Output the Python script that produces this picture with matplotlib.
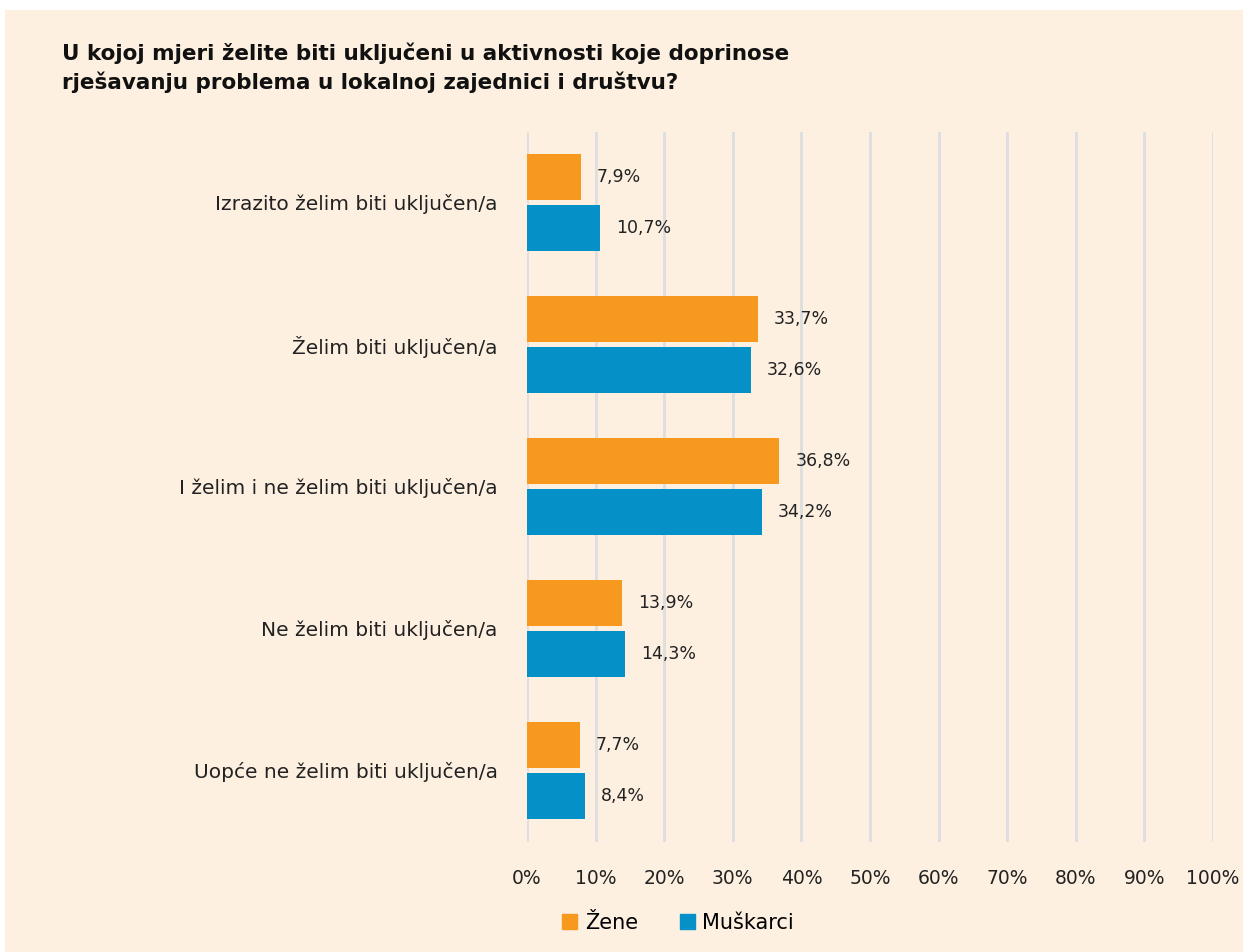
import numpy as np
import matplotlib.pyplot as plt
from matplotlib.patches import Patch

plt.rcParams['font.family'] = ['DejaVu Sans']

categories = ["Izrazito želim biti uključen/a",
              "Želim biti uključen/a",
              "I želim i ne želim biti uključen/a",
              "Ne želim biti uključen/a",
              "Uopće ne želim biti uključen/a"]
zene = [7.9, 33.7, 36.8, 13.9, 7.7]
muskarci = [10.7, 32.6, 34.2, 14.3, 8.4]
ticks = np.arange(0, 101, 10)

bg = '#FDF0E1'
c_z = '#F7991E'
c_m = '#0591C8'
txt = '#222222'

fig = plt.figure(figsize=(12.43, 9.52), dpi=100)
fig.patch.set_facecolor('white')
# cream panel
fig.add_artist(plt.Rectangle((5/1243, 0), 1, 1 - 10/952, transform=fig.transFigure,
                             facecolor=bg, edgecolor='none', zorder=-10))

ax = fig.add_axes([527/1243, 1 - 841.5/952, 686/1243, 710/952])
ax.set_facecolor('none')

y = np.arange(len(categories))
h = 0.324
off = 0.18
ax.barh(y - off, zene, height=h, color=c_z, zorder=3)
ax.barh(y + off, muskarci, height=h, color=c_m, zorder=3)

for yi, v in zip(y - off, zene):
    ax.text(v + 2.3, yi, f"{v:.1f}%".replace('.', ','), va='center', ha='left',
            fontsize=12.5, color=txt)
for yi, v in zip(y + off, muskarci):
    ax.text(v + 2.3, yi, f"{v:.1f}%".replace('.', ','), va='center', ha='left',
            fontsize=12.5, color=txt)

ax.set_xlim(0, 100)
ax.set_ylim(len(categories) - 0.5, -0.5)
ax.set_xticks(ticks)
ax.set_xticklabels([f"{t}%" for t in ticks], fontsize=13.5, color=txt)
ax.set_yticks(y)
ax.set_yticklabels(categories, fontsize=14.5, color=txt)
ax.tick_params(axis='both', length=0)
ax.tick_params(axis='x', pad=20)
ax.tick_params(axis='y', pad=21)
ax.grid(axis='x', color='#DDDEE0', linewidth=2, zorder=0)
for s in ax.spines.values():
    s.set_visible(False)

fig.text(62/1243, 1 - 68/952, "U kojoj mjeri želite biti uključeni u aktivnosti koje doprinose\nrješavanju problema u lokalnoj zajednici i društvu?",
         fontsize=15.5, fontweight='bold', va='center', ha='left', color='#111111',
         linespacing=1.45)

handles = [Patch(color=c_z, label='Žene'), Patch(color=c_m, label='Muškarci')]
fig.legend(handles=handles, loc='center', bbox_to_anchor=(678/1243, 1 - 923/952),
           ncol=2, frameon=False, fontsize=15, handlelength=0.75, handleheight=0.75,
           handletextpad=0.35, columnspacing=2.0)

fig.savefig('out.png', dpi=100, facecolor=fig.get_facecolor())
